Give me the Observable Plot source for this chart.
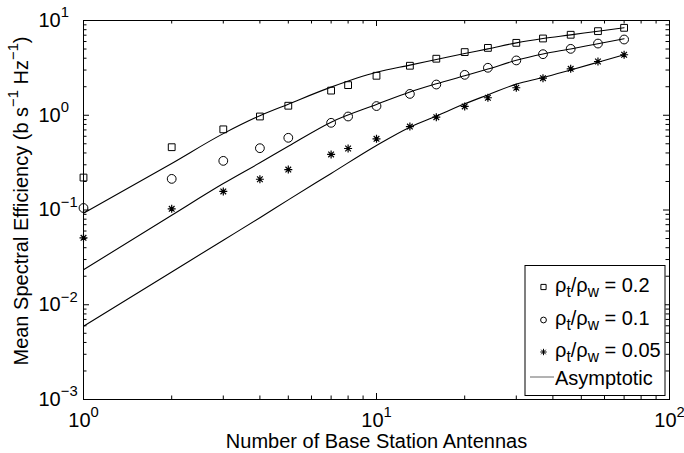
<!DOCTYPE html>
<html>
<head>
<meta charset="utf-8">
<script src="https://cdn.jsdelivr.net/npm/d3@7"></script>
<script src="https://cdn.jsdelivr.net/npm/@observablehq/plot@0.6"></script>
<style>
  html, body { margin: 0; padding: 0; background: #fff; }
  #chart { width: 684px; height: 453px; }
</style>
</head>
<body>
<div id="chart"></div>
<script>
// ---------- data ----------
const antennas = [1, 2, 3, 4, 5, 7, 8, 10, 13, 16, 20, 24, 30, 37, 46, 57, 70];
const simRatio02  = [0.22, 0.46, 0.71, 0.97, 1.26, 1.82, 2.08, 2.61, 3.33, 3.95, 4.64, 5.14, 5.81, 6.46, 7.07, 7.72, 8.37];
const simRatio01  = [0.105, 0.213, 0.33, 0.449, 0.578, 0.832, 0.97, 1.25, 1.68, 2.11, 2.67, 3.17, 3.79, 4.41, 5.02, 5.71, 6.30];
const simRatio005 = [0.0508, 0.103, 0.157, 0.211, 0.267, 0.386, 0.446, 0.564, 0.76, 0.955, 1.24, 1.53, 1.95, 2.46, 3.09, 3.69, 4.35];

const asymAntennas = [1, 2, 3, 4, 5, 7, 10, 13, 16, 20, 24, 30, 37, 46, 57, 70];
const asymRatio02  = [0.0925, 0.31, 0.64, 0.99, 1.31, 1.98, 2.84, 3.38, 3.87, 4.48, 5.02, 5.81, 6.46, 7.05, 7.71, 8.37];
const asymRatio01  = [0.0234, 0.088, 0.19, 0.315, 0.47, 0.845, 1.3, 1.76, 2.15, 2.61, 3.07, 3.8, 4.43, 5.01, 5.69, 6.41];
const asymRatio005 = [0.00594, 0.0222, 0.048, 0.083, 0.128, 0.243, 0.48, 0.748, 0.98, 1.32, 1.64, 2.13, 2.5, 3.01, 3.63, 4.35];

const xMajorTicks = [1, 10, 100];
const yMajorTicks = [0.001, 0.01, 0.1, 1, 10];
const xMinorTicks = [2, 3, 4, 5, 6, 7, 8, 9, 20, 30, 40, 50, 60, 70, 80, 90];
const yMinorTicks = [0.002, 0.003, 0.004, 0.005, 0.006, 0.007, 0.008, 0.009,
                     0.02, 0.03, 0.04, 0.05, 0.06, 0.07, 0.08, 0.09,
                     0.2, 0.3, 0.4, 0.5, 0.6, 0.7, 0.8, 0.9,
                     2, 3, 4, 5, 6, 7, 8, 9];

const legendLabels = ["0.2", "0.1", "0.05"];
const asymLabel = "Asymptotic";
const xLabel = "Number of Base Station Antennas";
const yLabel = "Mean Spectral Efficiency (b s⁻¹ Hz⁻¹)";

// ---------- tables ----------
const sim = (vals) => antennas.map((n, i) => ({n, v: vals[i]}));
const asym = (vals, key) => asymAntennas.map((n, i) => ({n, v: vals[i], key}));
const asymAll = [...asym(asymRatio02, "a"), ...asym(asymRatio01, "b"), ...asym(asymRatio005, "c")];

// ---------- symbols ----------
const squareSym = {draw(ctx, size) { const r = Math.sqrt(size / Math.PI); ctx.rect(-r, -r, 2 * r, 2 * r); }};
const circleSym = {draw(ctx, size) { const r = Math.sqrt(size / Math.PI); ctx.moveTo(r, 0); ctx.arc(0, 0, r, 0, 2 * Math.PI); }};
const starSym = {draw(ctx, size) {
  const r = Math.sqrt(size / Math.PI), d = r * Math.SQRT1_2;
  ctx.moveTo(0, -r); ctx.lineTo(0, r);
  ctx.moveTo(-r, 0); ctx.lineTo(r, 0);
  ctx.moveTo(-d, -d); ctx.lineTo(d, d);
  ctx.moveTo(-d, d); ctx.lineTo(d, -d);
}};

const supChars = {"-": "⁻", "0": "⁰", "1": "¹", "2": "²", "3": "³"};
const powFmt = d => "10" + String(Math.round(Math.log10(d))).split("").map(c => supChars[c]).join("");

const W = 684, H = 453, mL = 83, mR = 15, mT = 20, mB = 54;
const innerW = W - mL - mR, innerH = H - mT - mB;
const FS = 20;
const font = '"Liberation Sans", Arial, Helvetica, sans-serif';
const tickMajor = 6, tickMinor = 3.5;

const tickMarks = (ticks, len) => [
  Plot.tickX(ticks, {x: d => d, insetTop: innerH - len, stroke: "black", strokeWidth: 1}),
  Plot.tickX(ticks, {x: d => d, insetBottom: innerH - len, stroke: "black", strokeWidth: 1})
];
const tickMarksY = (ticks, len) => [
  Plot.tickY(ticks, {y: d => d, insetRight: innerW - len, stroke: "black", strokeWidth: 1}),
  Plot.tickY(ticks, {y: d => d, insetLeft: innerW - len, stroke: "black", strokeWidth: 1})
];

const chart = Plot.plot({
  width: W, height: H,
  marginLeft: mL, marginRight: mR, marginTop: mT, marginBottom: mB,
  style: {fontFamily: font, fontSize: FS + "px", color: "black", background: "white"},
  x: {type: "log", domain: [1, 100]},
  y: {type: "log", domain: [0.001, 10]},
  marks: [
    Plot.line(asymAll, {x: "n", y: "v", z: "key", stroke: "black", strokeWidth: 1.1, curve: "monotone-x"}),
    Plot.dot(sim(simRatio02), {x: "n", y: "v", symbol: squareSym, r: 3.4, stroke: "black", strokeWidth: 1, fill: "none"}),
    Plot.dot(sim(simRatio01), {x: "n", y: "v", symbol: circleSym, r: 4.4, stroke: "black", strokeWidth: 1, fill: "none"}),
    Plot.dot(sim(simRatio005), {x: "n", y: "v", symbol: starSym, r: 4, stroke: "black", strokeWidth: 1.2, fill: "none"}),
    ...tickMarks(xMajorTicks, tickMajor),
    ...tickMarks(xMinorTicks, tickMinor),
    ...tickMarksY(yMajorTicks, tickMajor),
    ...tickMarksY(yMinorTicks, tickMinor),
    Plot.axisX({ticks: xMajorTicks, tickSize: 0, tickPadding: 13, tickFormat: powFmt, label: null}),
    Plot.axisY({ticks: yMajorTicks, tickSize: 0, tickPadding: 45, textAnchor: "start", tickFormat: powFmt, label: null}),
    Plot.frame({stroke: "black", strokeWidth: 1}),
    Plot.text([xLabel], {frameAnchor: "bottom", text: d => d, dy: 42, lineAnchor: "middle", fontSize: FS})
  ]
});

const svg = d3.select(chart);

// ---------- y axis label (rotated) ----------
svg.append("text")
  .attr("transform", "translate(28,201) rotate(-90)")
  .attr("text-anchor", "middle").attr("dy", "0.35em")
  .attr("font-family", font).attr("font-size", FS).attr("fill", "black")
  .text(yLabel);

// ---------- superscripts as raised tspans ----------
const svgNS = "http://www.w3.org/2000/svg";
const supMap = {"⁰": "0", "¹": "1", "²": "2", "³": "3", "⁻": "−"};
function raise(textEl) {
  const s = textEl.textContent;
  if (textEl.children.length || ![...s].some(c => c in supMap)) return;
  const runs = [];
  for (const c of s) {
    const sup = c in supMap;
    const ch = sup ? supMap[c] : c;
    if (runs.length && runs[runs.length - 1].sup === sup) runs[runs.length - 1].t += ch;
    else runs.push({sup, t: ch});
  }
  textEl.textContent = "";
  let shift = 0;
  for (const r of runs) {
    const ts = document.createElementNS(svgNS, "tspan");
    const target = r.sup ? -FS * 0.48 : 0;
    ts.setAttribute("dy", target - shift);
    shift = target;
    if (r.sup) ts.setAttribute("font-size", FS * 0.74);
    ts.textContent = r.t;
    textEl.appendChild(ts);
  }
}
chart.querySelectorAll("text").forEach(raise);

// ---------- legend (inside plot, lower right) ----------
const lg = svg.append("g").attr("font-family", font).attr("font-size", FS)
  .attr("fill", "black").attr("text-anchor", "start");
lg.append("rect").attr("x", 525).attr("y", 265.5).attr("width", 140).attr("height", 130)
  .attr("fill", "white").attr("stroke", "black").attr("stroke-width", 1);
const legendSyms = [squareSym, circleSym, starSym];
const legendR = [2.6, 2.9, 3.2];
const rowBase = [292, 325, 357];
legendLabels.forEach((lab, i) => {
  lg.append("path")
    .attr("d", d3.symbol(legendSyms[i], Math.PI * legendR[i] ** 2)())
    .attr("transform", `translate(543.5,${rowBase[i] - 5})`)
    .attr("fill", "none").attr("stroke", "black").attr("stroke-width", 1);
  const t = lg.append("text").attr("x", 555).attr("y", rowBase[i]);
  const sub = FS * 0.24;
  t.append("tspan").text("ρ");
  t.append("tspan").attr("dy", sub).attr("font-size", FS * 0.78).text("t");
  t.append("tspan").attr("dy", -sub).text("/ρ");
  t.append("tspan").attr("dy", sub).attr("font-size", FS * 0.78).text("w");
  t.append("tspan").attr("dy", -sub).text(" = " + lab);
});
lg.append("line").attr("x1", 530).attr("x2", 554).attr("y1", 377).attr("y2", 377)
  .attr("stroke", "#666").attr("stroke-width", 1);
lg.append("text").attr("x", 555).attr("y", 385).text(asymLabel);

document.getElementById("chart").appendChild(chart);
</script>
</body>
</html>
